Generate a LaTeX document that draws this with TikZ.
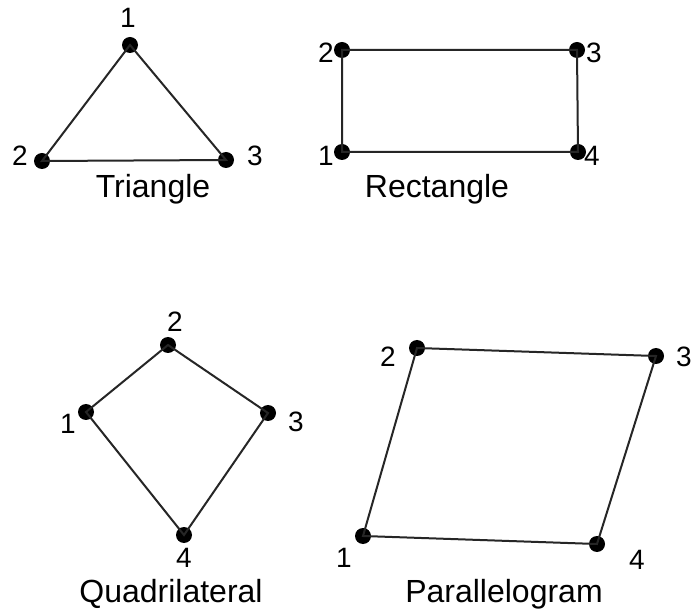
\documentclass[tikz,border=0pt]{standalone}
\usepackage{fontspec}
\setmainfont{Liberation Sans}
\begin{document}
\begin{tikzpicture}[x=1pt,y=-1pt,
  vtx/.style={circle,fill=black,inner sep=0pt,minimum size=16pt},
  edge/.style={draw=black!85,line width=2pt},
  lbl/.style={font=\fontsize{28}{30}\selectfont,inner sep=0pt,anchor=center},
  captext/.style={font=\fontsize{32}{36}\selectfont,inner sep=0pt,anchor=base}]
\useasboundingbox[fill=white] (0,0) rectangle (694,612);
% Triangle
\node[vtx] (t1) at (130,45) {};
\node[vtx] (t2) at (42,161) {};
\node[vtx] (t3) at (226,160) {};
\draw[edge] (t1.center) -- (t2.center) -- (t3.center) -- cycle;
\node[lbl] (tl1) at (128,18) {1};
\node[lbl] (tl2) at (20,156) {2};
\node[lbl] (tl3) at (255,156) {3};
\node[captext] (tc) at (153,198) {Triangle};
% Rectangle
\node[vtx] (r2) at (342,50) {};
\node[vtx] (r3) at (577,50) {};
\node[vtx] (r1) at (342,152) {};
\node[vtx] (r4) at (578,152) {};
\draw[edge] (r1.center) -- (r2.center) -- (r3.center) -- (r4.center) -- cycle;
\node[lbl] (rl2) at (326,53) {2};
\node[lbl] (rl3) at (594,53) {3};
\node[lbl] (rl1) at (326,156) {1};
\node[lbl] (rl4) at (592,156) {4};
\node[captext] (rc) at (437,198) {Rectangle};
% Quadrilateral
\node[vtx] (q2) at (168,345) {};
\node[vtx] (q1) at (86,412) {};
\node[vtx] (q3) at (268,413) {};
\node[vtx] (q4) at (184,535) {};
\draw[edge] (q1.center) -- (q2.center) -- (q3.center) -- (q4.center) -- cycle;
\node[lbl] (ql2) at (175,322) {2};
\node[lbl] (ql1) at (68,424) {1};
\node[lbl] (ql3) at (296,422) {3};
\node[lbl] (ql4) at (184,558) {4};
\node[captext] (qc) at (171,602) {Quadrilateral};
% Parallelogram
\node[vtx] (p2) at (417,348) {};
\node[vtx] (p3) at (656,356) {};
\node[vtx] (p1) at (363,536) {};
\node[vtx] (p4) at (597,544) {};
\draw[edge] (p1.center) -- (p2.center) -- (p3.center) -- (p4.center) -- cycle;
\node[lbl] (pl2) at (388,357) {2};
\node[lbl] (pl3) at (684,357) {3};
\node[lbl] (pl1) at (344,558) {1};
\node[lbl] (pl4) at (637,560) {4};
\node[captext] (pc) at (504,602) {Parallelogram};
\end{tikzpicture}
\end{document}
